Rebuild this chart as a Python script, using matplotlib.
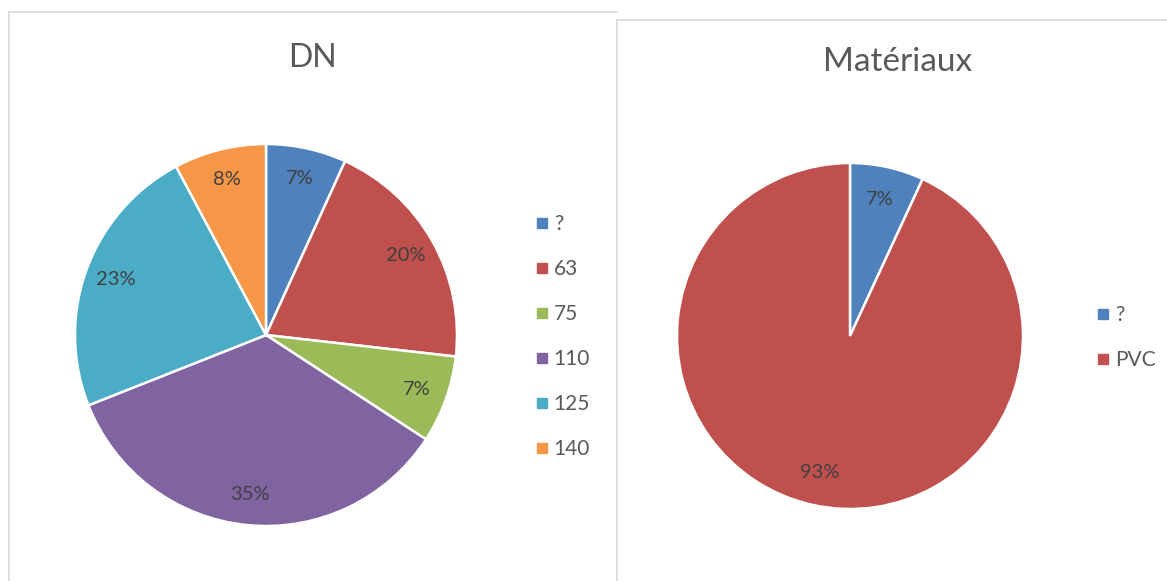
import matplotlib
matplotlib.use("Agg")
import matplotlib.pyplot as plt
from matplotlib.lines import Line2D

plt.rcParams['font.family'] = ['Lato', 'DejaVu Sans']

# data
dn_labels = ['?', '63', '75', '110', '125', '140']
dn_values = [6.8, 20.0, 7.4, 34.8, 23.2, 7.8]
dn_colors = ['#4F81BD', '#C0504D', '#9BBB59', '#8064A2', '#4BACC6', '#F79646']

mat_labels = ['?', 'PVC']
mat_values = [6.9, 93.1]
mat_colors = ['#4F81BD', '#C0504D']

W, H = 1167, 581
fig = plt.figure(figsize=(W / 100, H / 100), dpi=100)

def px_axes(cx, cy, r):
    # square axes in pixel units, centered on the pie centre
    return fig.add_axes([(cx - r) / W, (H - cy - r) / H, 2 * r / W, 2 * r / H])

def draw_pie(ax, values, colors, pctdist):
    wedges, _, autotexts = ax.pie(values, colors=colors, startangle=90, counterclock=False,
                                  autopct='%.0f%%', pctdistance=pctdist, radius=1,
                                  wedgeprops=dict(edgecolor='white', linewidth=1.8),
                                  textprops=dict(color='#404040', fontsize=14.5))
    ax.set_xlim(-1, 1)
    ax.set_ylim(-1, 1)
    ax.set_aspect('equal')
    ax.axis('off')
    return wedges

def legend(labels, colors, x, y, spacing):
    handles = [Line2D([], [], marker='s', linestyle='none', markersize=6.5,
                      markerfacecolor=c, markeredgecolor=c) for c in colors]
    fig.legend(handles, labels, loc='upper left', bbox_to_anchor=(x / W, 1 - y / H),
               frameon=False, fontsize=15, labelcolor='#595959', handlelength=0.6,
               handletextpad=0.25, labelspacing=spacing, borderpad=0, borderaxespad=0)

# chart frames
border = '#D9D9D9'
for xs, ys in [([9, 9], [12, 581]), ([9, 617], [12, 12]), ([617, 617], [20, 581]),
               ([617, 1167], [20, 20])]:
    fig.add_artist(Line2D([v / W for v in xs], [1 - v / H for v in ys], color=border, lw=1.2))

# left chart
ax1 = px_axes(266, 335, 191)
draw_pie(ax1, dn_values, dn_colors, 0.84)
fig.text(312 / W, 1 - 58 / H, 'DN', ha='center', va='center', fontsize=23, color='#595959')
legend(dn_labels, dn_colors, 536, 214, 1.2)

# right chart
ax2 = px_axes(850, 336, 173)
draw_pie(ax2, mat_values, mat_colors, 0.81)
fig.text(898 / W, 1 - 62 / H, 'Matériaux', ha='center', va='center', fontsize=24, color='#595959')
legend(mat_labels, mat_colors, 1097, 305, 1.2)

fig.savefig('out.png', dpi=100, facecolor='white')
